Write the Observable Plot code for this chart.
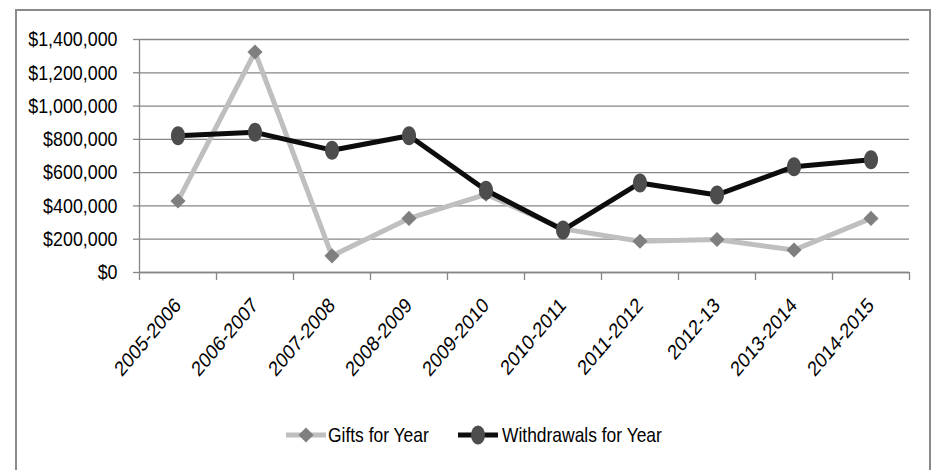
<!DOCTYPE html>
<html><head><meta charset="utf-8">
<script src="https://cdn.jsdelivr.net/npm/d3@7"></script>
<script src="https://cdn.jsdelivr.net/npm/@observablehq/plot@0.6"></script>
<style>
html,body{margin:0;padding:0;background:#fff;}
body{width:934px;height:470px;position:relative;overflow:hidden;font-family:"Liberation Sans",Arial,sans-serif;}
#frame{position:absolute;left:15px;top:9px;width:916px;height:480px;border:2px solid #8a8a8a;box-sizing:border-box;}
#chart{position:absolute;left:0;top:0;}
#legend{position:absolute;top:424px;left:0;width:934px;height:22px;font-size:21px;line-height:22px;color:#000;white-space:nowrap;}
#legend svg, #legend span{position:absolute;top:0;display:block;}
#legend svg{top:1px;}
#legend span{transform:scaleX(0.83);transform-origin:0 50%;}
</style></head><body>
<div id="frame"></div>
<div id="chart"></div>
<div id="legend"></div>
<script>
const categories = ["2005-2006","2006-2007","2007-2008","2008-2009","2009-2010","2010-2011","2011-2012","2012-13","2013-2014","2014-2015"];
const gifts = [430000, 1325000, 100000, 325000, 470000, 262000, 188000, 198000, 135000, 325000];
const withdrawals = [822000, 842000, 735000, 822000, 494000, 255000, 538000, 466000, 636000, 678000];
const yTicks = [0, 200000, 400000, 600000, 800000, 1000000, 1200000, 1400000];
const seriesNames = ["Gifts for Year", "Withdrawals for Year"];

const rows = categories.map((c, i) => ({pos: i + 0.5, cat: c, gifts: gifts[i], withdrawals: withdrawals[i]}));

const ellipse = {
  draw(ctx, size) {
    const r = Math.sqrt(size / Math.PI), rx = r * 0.74, ry = r, k = 0.5523;
    ctx.moveTo(rx, 0);
    ctx.bezierCurveTo(rx, ry * k, rx * k, ry, 0, ry);
    ctx.bezierCurveTo(-rx * k, ry, -rx, ry * k, -rx, 0);
    ctx.bezierCurveTo(-rx, -ry * k, -rx * k, -ry, 0, -ry);
    ctx.bezierCurveTo(rx * k, -ry, rx, -ry * k, rx, 0);
    ctx.closePath();
  }
};

const font = "Liberation Sans, Arial, sans-serif";
const grey = "#868686";

const chart = Plot.plot({
  width: 934, height: 400,
  marginLeft: 139, marginRight: 25, marginTop: 39, marginBottom: 128,
  style: {fontFamily: font, fontSize: "21px", color: "#000", background: "transparent", overflow: "visible"},
  x: {domain: [0, categories.length], axis: null},
  y: {domain: [0, 1400000], axis: null},
  marks: [
    Plot.gridY(yTicks, {stroke: grey, strokeOpacity: 1, strokeWidth: 1.3}),
    Plot.axisY(yTicks, {tickSize: 6, tickPadding: 16, stroke: grey, strokeWidth: 1.3, tickFormat: d => "$" + d3.format(",")(d), fontSize: 21, fill: "#000", label: null}),
    Plot.ruleX([0], {stroke: grey, strokeWidth: 1.3}),
    Plot.ruleY([0], {stroke: grey, strokeWidth: 1.3}),
    Plot.axisX(d3.range(categories.length + 1), {tickSize: 8, tickFormat: () => "", stroke: grey, strokeWidth: 1.3, label: null}),
    Plot.text(rows, {x: "pos", frameAnchor: "bottom", text: "cat", rotate: -45, textAnchor: "end", lineAnchor: "bottom", dx: 4, dy: 34, fontSize: 21, fill: "#000"}),
    Plot.line(rows, {x: "pos", y: "gifts", stroke: "#bfbfbf", strokeWidth: 5}),
    Plot.dot(rows, {x: "pos", y: "gifts", symbol: "diamond2", r: 6.8, fill: "#7f7f7f"}),
    Plot.line(rows, {x: "pos", y: "withdrawals", stroke: "#0d0d0d", strokeWidth: 5}),
    Plot.dot(rows, {x: "pos", y: "withdrawals", symbol: ellipse, r: 9.5, fill: "#4d4d4d"})
  ]
});

// the reference text is condensed horizontally (vertically stretched chart)
d3.select(chart).selectAll('g[aria-label="y-axis tick label"] text').each(function() {
  const t = this.getAttribute("transform") || "";
  this.setAttribute("transform", t + " scale(0.85,1)");
});
d3.select(chart).selectAll('g[aria-label="text"] text').each(function() {
  const t = this.getAttribute("transform") || "";
  this.setAttribute("transform", t.replace(/rotate\(/, "scale(0.85,1) rotate("));
});
document.getElementById("chart").appendChild(chart);

const legend = document.getElementById("legend");
legend.innerHTML = `
  <svg width="40" height="20" style="left:286px"><line x1="0" x2="40" y1="10" y2="10" stroke="#bfbfbf" stroke-width="5"/>
    <path d="M20,2.5L27.5,10L20,17.5L12.5,10Z" fill="#7f7f7f"/></svg>
  <span style="left:328px">${seriesNames[0]}</span>
  <svg width="40" height="20" style="left:458px"><line x1="0" x2="40" y1="10" y2="10" stroke="#0d0d0d" stroke-width="5"/>
    <ellipse cx="20" cy="10" rx="7" ry="9.5" fill="#4d4d4d"/></svg>
  <span style="left:502px">${seriesNames[1]}</span>`;
</script>
</body></html>
